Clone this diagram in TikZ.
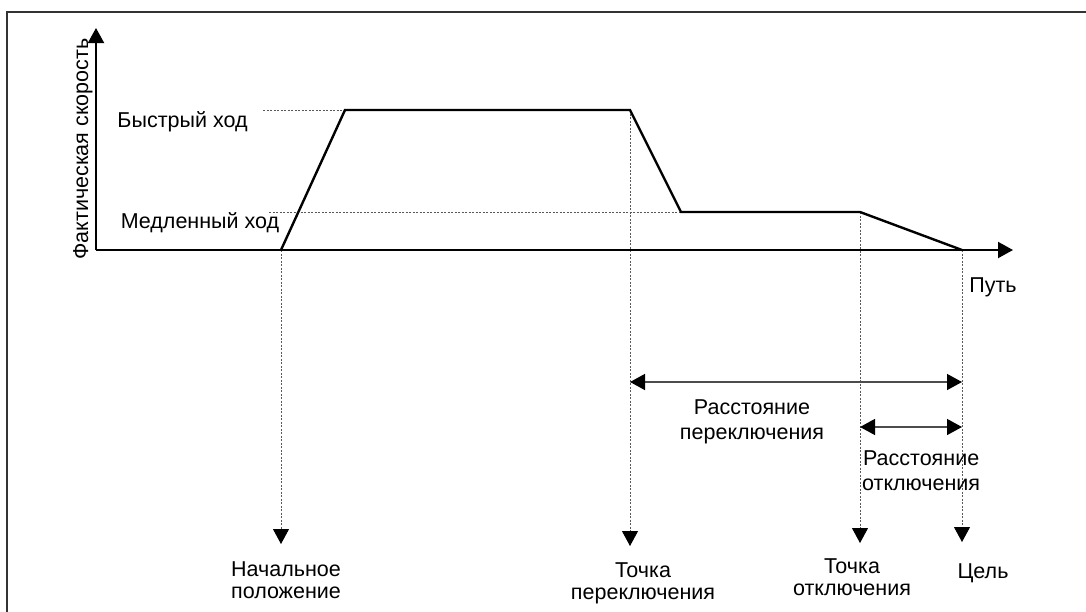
\documentclass[tikz,border=0pt]{standalone}
\usepackage{fontspec}
\setmainfont{Liberation Sans}
\usetikzlibrary{arrows.meta}
\begin{document}
\begin{tikzpicture}[x=1pt,y=-1pt,
  lbl/.style={font=\fontsize{21.5}{22}\selectfont, align=center, inner sep=0pt, anchor=base},
  lblw/.style={font=\fontsize{21.5}{25}\selectfont, align=center, inner sep=0pt, anchor=base},
  curve/.style={line width=2.4pt, line join=miter},
  axis/.style={line width=2pt},
  guide/.style={gray!70!black, line width=0.9pt, dash pattern=on 2pt off 1.5pt},
  dimline/.style={gray!60!black, line width=1.4pt},
  tip/.style={-{Triangle[length=15pt,width=16pt,black]}},
  dtip/.style={{Triangle[length=15pt,width=16pt,black]}-{Triangle[length=15pt,width=16pt,black]}}
]
\useasboundingbox (0,0) rectangle (1086,611);
% frame
\draw[line width=1.2pt, gray!40!black] (7,640) -- (7,12) -- (1100,12);
% key points
\coordinate (O) at (96,250);
\coordinate (ytop) at (96,28);
\coordinate (xend) at (1013,250);
\coordinate (start) at (281,250);
\coordinate (fastA) at (345,110);
\coordinate (fastB) at (630,110);
\coordinate (slowA) at (681,212);
\coordinate (slowB) at (860,212);
\coordinate (goal) at (962,250);
\coordinate (fastL) at (263,110);
\coordinate (slowL) at (269,212);
\coordinate (startD) at (281,544);
\coordinate (swD) at (630,546);
\coordinate (offD) at (860,543);
\coordinate (goalD) at (962,542);
\coordinate (d1a) at (630,382);
\coordinate (d1b) at (962,382);
\coordinate (d2a) at (860,427);
\coordinate (d2b) at (962,427);
% guides
\draw[guide] (fastL) -- (fastA);
\draw[guide] (slowL) -- (slowA);
\draw[guide, tip] (start) -- (startD);
\draw[guide, tip] (fastB) -- (swD);
\draw[guide, tip] (slowB) -- (offD);
\draw[guide, tip] (goal) -- (goalD);
% axes
\draw[axis, tip] (O) -- (ytop);
\draw[axis, tip] (O) -- (xend);
% speed profile
\draw[curve] (start) -- (fastA) -- (fastB) -- (slowA) -- (slowB) -- (goal);
% dimension arrows
\draw[dimline, dtip] (d1a) -- (d1b);
\draw[dimline, dtip] (d2a) -- (d2b);
% labels
\node[lbl, rotate=90] (yl) at (88,149) {Фактическая скорость};
\node[lbl] (fast) at (182.5,127) {Быстрый ход};
\node[lbl] (slow) at (200,228) {Медленный ход};
\node[lbl] (path) at (993,292) {Путь};
\node[lblw] (swdist) at (752,439) {Расстояние\\переключения};
\node[lblw, anchor=base west] (offdist) at (862,490) {Расстояние\\отключения};
\node[lbl] (startl) at (286,598) {Начальное\\положение};
\node[lbl] (swl) at (643,599) {Точка\\переключения};
\node[lbl] (offl) at (852,595) {Точка\\отключения};
\node[lbl] (goall) at (983,578) {Цель};
\end{tikzpicture}
\end{document}
